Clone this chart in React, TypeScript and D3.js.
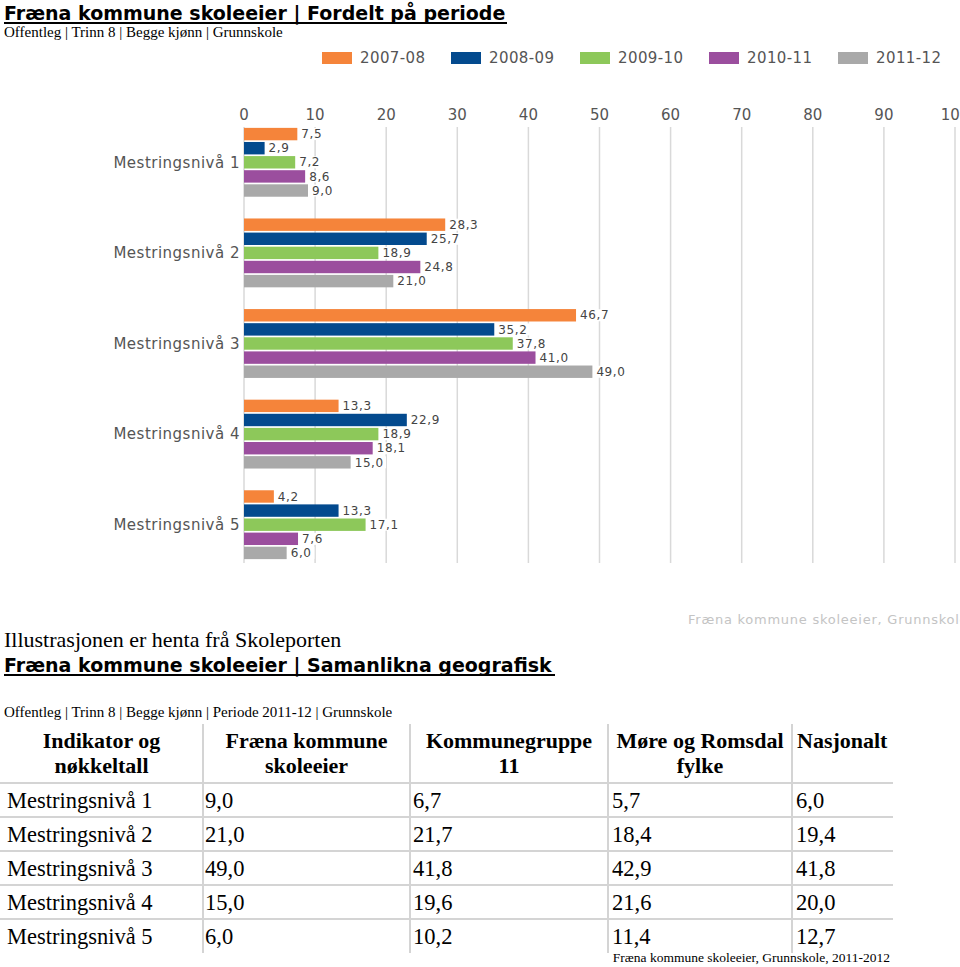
import React from "react";
import * as d3 from "d3";

// ---------- Data ----------
const categories = ["Mestringsnivå 1", "Mestringsnivå 2", "Mestringsnivå 3", "Mestringsnivå 4", "Mestringsnivå 5"];
const periods = ["2007-08", "2008-09", "2009-10", "2010-11", "2011-12"];
const periodColors = ["#f5843a", "#034a8e", "#8dc85a", "#9b4e9e", "#a9a9a9"];
const s200708 = [7.5, 28.3, 46.7, 13.3, 4.2];
const s200809 = [2.9, 25.7, 35.2, 22.9, 13.3];
const s200910 = [7.2, 18.9, 37.8, 18.9, 17.1];
const s201011 = [8.6, 24.8, 41.0, 18.1, 7.6];
const s201112 = [9.0, 21.0, 49.0, 15.0, 6.0];
const seriesValues = [s200708, s200809, s200910, s201011, s201112];
const xTicks = [0, 10, 20, 30, 40, 50, 60, 70, 80, 90, 100];

const tableHeaders = [
  ["Indikator og", "nøkkeltall"],
  ["Fræna kommune", "skoleeier"],
  ["Kommunegruppe", "11"],
  ["Møre og Romsdal", "fylke"],
  ["Nasjonalt"],
];
const colFraena = [9.0, 21.0, 49.0, 15.0, 6.0];
const colKommunegruppe = [6.7, 21.7, 41.8, 19.6, 10.2];
const colFylke = [5.7, 18.4, 42.9, 21.6, 11.4];
const colNasjonalt = [6.0, 19.4, 41.8, 20.0, 12.7];
const tableColumns = [colFraena, colKommunegruppe, colFylke, colNasjonalt];

const fmt = (v: number) => d3.format(".1f")(v).replace(".", ",");

const VERDANA = "'DejaVu Sans', Verdana, sans-serif";
const TIMES = "'Liberation Serif', 'Times New Roman', serif";

export default function App() {
  const x = d3.scaleLinear().domain([0, 100]).range([244, 955]);
  const y0 = d3.scaleBand<string>().domain(categories).range([117, 570]).paddingInner(0.24).paddingOuter(0.12);
  const y1 = d3.scaleBand<string>().domain(periods).range([0, y0.bandwidth()]).paddingInner(0.12);

  // table geometry
  const colEdges = [0, 203, 410, 608, 792, 893];
  const rowLines = [783, 817, 851, 885, 919];
  const rowY = d3.scaleBand<string>().domain(categories).range([783, 953]);

  return (
    <svg width={960} height={967} style={{ position: "absolute", left: 0, top: 0, background: "#fff" }}>
      {/* Title 1 */}
      <text x={4} y={20} fontFamily={VERDANA} fontWeight="bold" fontSize={19} fill="#000">
        Fræna kommune skoleeier | Fordelt på periode
      </text>
      <rect x={4} y={22} width={503} height={2} fill="#000" />
      <text x={4} y={37} fontFamily={TIMES} fontSize={15} fill="#000">
        Offentleg | Trinn 8 | Begge kjønn | Grunnskole
      </text>

      {/* Legend */}
      {periods.map((p, i) => (
        <g key={p} transform={`translate(${322 + i * 129},52)`}>
          <rect x={0} y={0} width={30} height={12} fill={periodColors[i]} />
          <text x={38} y={6} dy="0.35em" fontFamily={VERDANA} fontSize={15} letterSpacing={0.4} fill="#555">
            {p}
          </text>
        </g>
      ))}

      {/* Gridlines and tick labels */}
      {xTicks.map((t) => (
        <g key={t}>
          <line x1={x(t)} x2={x(t)} y1={127} y2={563} stroke="#d9d9d9" strokeWidth={1.5} />
          <text x={x(t)} y={115} dy="0.35em" textAnchor="middle" fontFamily={VERDANA} fontSize={15} fill="#555">
            {t}
          </text>
        </g>
      ))}

      {/* Category labels */}
      {categories.map((c) => (
        <text key={c} x={240} y={(y0(c) as number) + y0.bandwidth() / 2} dy="0.35em" textAnchor="end"
          fontFamily={VERDANA} fontSize={15} letterSpacing={0.5} fill="#555">
          {c}
        </text>
      ))}

      {/* Bars */}
      {categories.map((c, ci) => (
        <g key={c} transform={`translate(0,${y0(c)})`}>
          {periods.map((p, pi) => {
            const v = seriesValues[pi][ci];
            const yy = y1(p) as number;
            return (
              <rect key={p} x={x(0)} y={yy} width={x(v) - x(0)} height={y1.bandwidth()} fill={periodColors[pi]} />
            );
          })}
          {periods.map((p, pi) => {
            const v = seriesValues[pi][ci];
            const yy = (y1(p) as number) + y1.bandwidth() / 2;
            const label = fmt(v);
            const w = label.length * 7.6 + 4;
            return (
              <g key={p}>
                <rect x={x(v) + 1} y={yy - 6} width={w} height={12} fill="#fff" />
                <text x={x(v) + 4} y={yy} dy="0.35em" fontFamily={VERDANA} fontSize={12} letterSpacing={0.6} fill="#444">
                  {label}
                </text>
              </g>
            );
          })}
        </g>
      ))}

      {/* Watermark */}
      <text x={688} y={619} dy="0.35em" fontFamily={VERDANA} fontSize={13} letterSpacing={0.75} fill="#c4c4c4">
        Fræna kommune skoleeier, Grunnskole
      </text>

      {/* Second section */}
      <text x={4} y={647} fontFamily={TIMES} fontSize={22} fill="#000">
        Illustrasjonen er henta frå Skoleporten
      </text>
      <text x={4} y={672} fontFamily={VERDANA} fontWeight="bold" fontSize={19} fill="#000">
        Fræna kommune skoleeier | Samanlikna geografisk
      </text>
      <rect x={4} y={674} width={551} height={2} fill="#000" />
      <text x={4} y={717} fontFamily={TIMES} fontSize={15} fill="#000">
        Offentleg | Trinn 8 | Begge kjønn | Periode 2011-12 | Grunnskole
      </text>

      {/* Table lines */}
      {rowLines.map((ly) => (
        <line key={ly} x1={0} x2={893} y1={ly} y2={ly} stroke="#d4d4d4" strokeWidth={2} />
      ))}
      {colEdges.slice(1, 5).map((cx) => (
        <line key={cx} x1={cx} x2={cx} y1={724} y2={953} stroke="#d4d4d4" strokeWidth={2} />
      ))}

      {/* Table header */}
      {tableHeaders.map((lines, i) => {
        const cx = i === 4 ? 797 : (colEdges[i] + colEdges[i + 1]) / 2;
        return (
          <g key={i}>
            {lines.map((ln, li) => (
              <text key={li} x={cx} y={748 + li * 25} textAnchor={i === 4 ? "start" : "middle"}
                fontFamily={TIMES} fontWeight="bold" fontSize={22} fill="#000">
                {ln}
              </text>
            ))}
          </g>
        );
      })}

      {/* Table body */}
      {categories.map((c, ri) => {
        const by = (rowY(c) as number) + rowY.bandwidth() / 2;
        return (
          <g key={c}>
            <text x={7} y={by} dy="0.35em" fontFamily={TIMES} fontSize={22.5} fill="#000">{c}</text>
            {tableColumns.map((col, ci) => (
              <text key={ci} x={[205, 413, 612, 796][ci]} y={by} dy="0.35em" fontFamily={TIMES} fontSize={22.5} fill="#000">
                {fmt(col[ri])}
              </text>
            ))}
          </g>
        );
      })}

      <text x={890} y={962} textAnchor="end" fontFamily={TIMES} fontSize={13.5} fill="#000">
        Fræna kommune skoleeier, Grunnskole, 2011-2012
      </text>
    </svg>
  );
}
